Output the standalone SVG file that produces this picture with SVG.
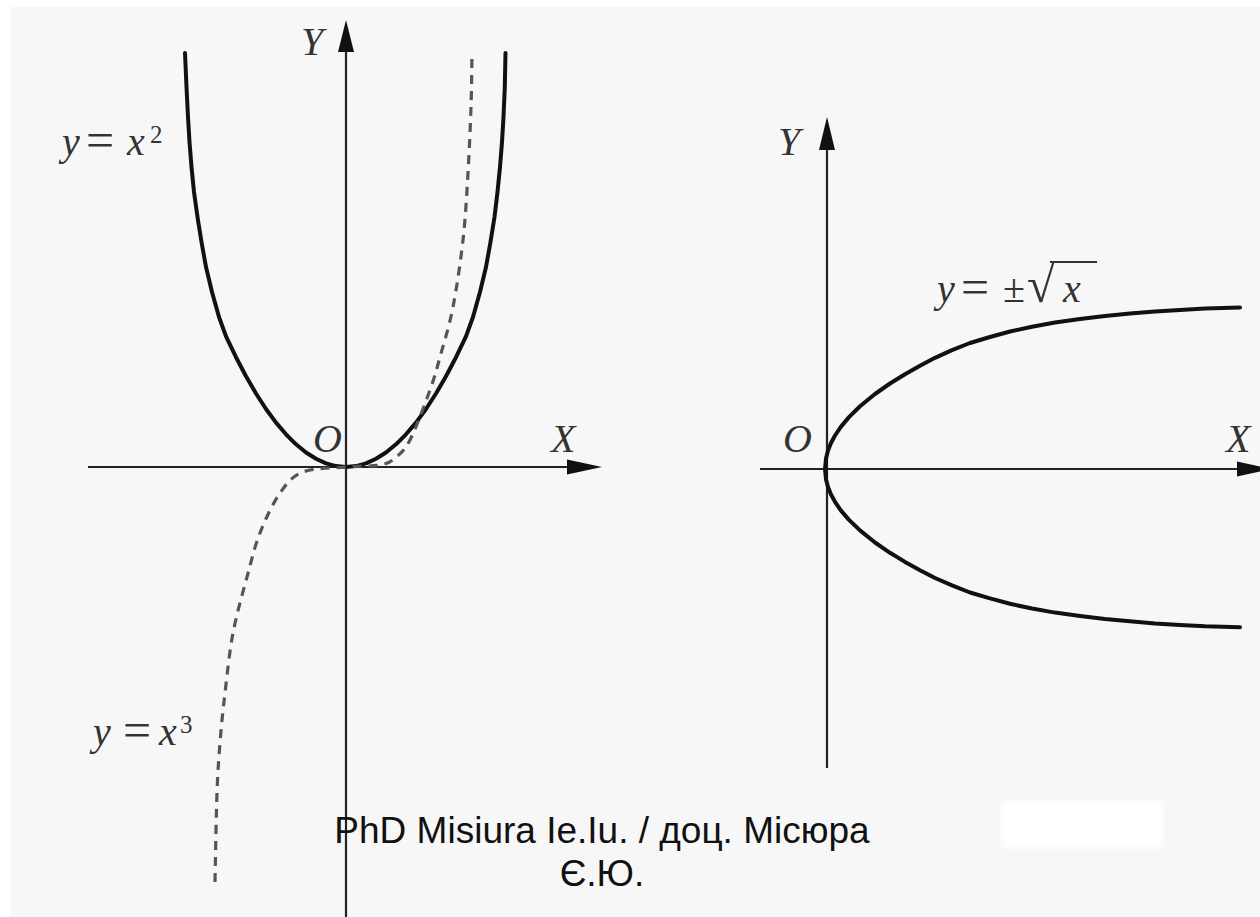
<svg xmlns="http://www.w3.org/2000/svg" width="1260" height="917" viewBox="0 0 1260 917">
<style>
.axis{stroke:#222;stroke-width:2.2;fill:none}
.arrow{fill:#111;stroke:none}
.curve{stroke:#111;stroke-width:4;fill:none;stroke-linecap:round;stroke-linejoin:round}
.dash{stroke:#555;stroke-width:3.2;fill:none;stroke-dasharray:9 7}
.lbl{font-family:"Liberation Serif","DejaVu Serif",serif;font-style:italic;font-size:40px;fill:#333}
.math{font-family:"Liberation Serif","DejaVu Serif",serif;font-size:40px;fill:#333}
.it{font-style:italic}
.wm{font-family:"Liberation Sans",Arial,sans-serif;font-size:37px;fill:#111;text-anchor:middle}
</style>
<defs>
<filter id="soft" x="-10%" y="-30%" width="120%" height="160%"><feGaussianBlur stdDeviation="2"/></filter>
</defs>
<rect x="0" y="0" width="1260" height="917" fill="#ffffff"/>
<rect id="background" x="10" y="7" width="1250" height="910" fill="#f7f7f7"/>

<g id="left-plot">
  <g id="left-axes">
    <line class="axis" x1="346" y1="48" x2="346" y2="917"/>
    <polygon class="arrow" points="346,20 354,52 338,52"/>
    <line class="axis" x1="88" y1="467" x2="572" y2="467"/>
    <polygon class="arrow" points="602,467 567,459.5 567,474.5"/>
  </g>
  <path id="parabola" class="curve" d="M185,53 L186.5,87 L188,117 L189.5,142 L191.5,167 L194,192 L197.5,217 L201.5,242 L206,267 L212,292 L219,317 L226,336.4 L236,357.2 L246,376.3 L256,393.5 L266,409 L276,422.6 L286,434.3 L296,444.3 L306,452.5 L316,458.8 L326,463.4 L336,466.1 L346,467 L356,466.1 L366,463.4 L376,458.8 L386,452.5 L396,444.3 L406,434.3 L416,422.6 L426,409 L436,393.5 L446,376.3 L456,357.2 L466,336.4 L473,317 L480,292 L486,267 L490.5,242 L494.5,217 L497.5,192 L500,167 L502,142 L503.5,117 L504.8,87 L505.5,53"/>
  <path id="cubic" class="dash" d="M215,882 C215.5,855 216.2,816.2 217,793 C217.8,769.8 218.7,759.7 220,743 C221.3,726.3 222.8,711.3 225,693 C227.2,674.7 229.3,652.3 233,633 C236.7,613.7 242.5,593.7 247,577 C251.5,560.3 254.5,547 260,533 C265.5,519 272.8,503.2 280,493 C287.2,482.8 292,476.3 303,472 C314,467.7 333.2,468.2 346,467 C358.8,465.8 371.8,466.5 380,465 C388.2,463.5 390,462.2 395,458 C400,453.8 404.2,451.3 410,440 C415.8,428.7 425,403.8 430,390 C435,376.2 436.2,370.8 440,357 C443.8,343.2 449.2,326.5 453,307 C456.8,287.5 460.5,262.3 463,240 C465.5,217.7 466.7,195.2 468,173 C469.3,150.8 470.3,127 471,107 C471.7,87 471.8,62 472,53"/>
  <text class="lbl" x="301" y="55">Y</text>
  <text class="lbl" x="313" y="452">O</text>
  <text class="lbl" x="551" y="452">X</text>
  <text class="math" y="155"><tspan class="it" x="62">y</tspan><tspan x="86" y="157" font-size="50">=</tspan><tspan class="it" x="127" y="155">x</tspan><tspan x="150" y="143" font-size="25">2</tspan></text>
  <text class="math" y="745"><tspan class="it" x="93">y</tspan><tspan x="123" y="747" font-size="50">=</tspan><tspan class="it" x="159" y="745">x</tspan><tspan x="180" y="733" font-size="25">3</tspan></text>
</g>

<g id="right-plot">
  <g id="right-axes">
    <line class="axis" x1="827" y1="145" x2="827" y2="768"/>
    <polygon class="arrow" points="827,117 835,150 819,150"/>
    <line class="axis" x1="760" y1="469" x2="1245" y2="469"/>
    <polygon class="arrow" points="1272,469 1237,461.5 1237,476.5"/>
  </g>
  <path id="sqrt-curve" class="curve" d="M1240,627.3 L1205,626.3 L1180,624.9 L1155,623.4 L1130,621.3 L1105,619 L1080,616 L1055,612.6 L1032,608.5 L1010,603.8 L990,598.4 L970,592.5 L952,585.4 L935,578 L920,570.2 L905,561.9 L890,552.8 L875,542.5 L860,530.4 L849,519.9 L841,510.6 L835,501.8 L831,494.5 L828,487 L826,479.4 L825,469 L826,458.4 L828,450.6 L831,443 L835,435.5 L841,426.6 L849,417.1 L860,406.3 L875,394 L890,383.5 L905,374.2 L920,365.7 L935,357.8 L952,350.2 L970,343 L990,337 L1010,331.5 L1032,326.7 L1055,322.5 L1080,319 L1105,316 L1130,313.6 L1155,311.5 L1180,309.9 L1205,308.5 L1240,307.5"/>
  <text class="lbl" x="778" y="155">Y</text>
  <text class="lbl" x="783" y="452">O</text>
  <text class="lbl" x="1226" y="452">X</text>
  <text class="math" y="302"><tspan class="it" x="937">y</tspan><tspan x="961" y="304" font-size="50">=</tspan><tspan x="1003" y="302">±</tspan><tspan x="1027" y="302" font-size="50">√</tspan><tspan class="it" x="1063" y="302">x</tspan></text>
  <line x1="1050" y1="262" x2="1097" y2="262" stroke="#333" stroke-width="2"/>
</g>

<rect id="erased-patch" x="1002" y="802" width="161" height="46" fill="#ffffff" filter="url(#soft)"/>

<g id="watermark">
  <text class="wm" x="602" y="843">PhD Misiura Ie.Iu. / доц. Місюра</text>
  <text class="wm" x="602" y="886">Є.Ю.</text>
</g>
</svg>
